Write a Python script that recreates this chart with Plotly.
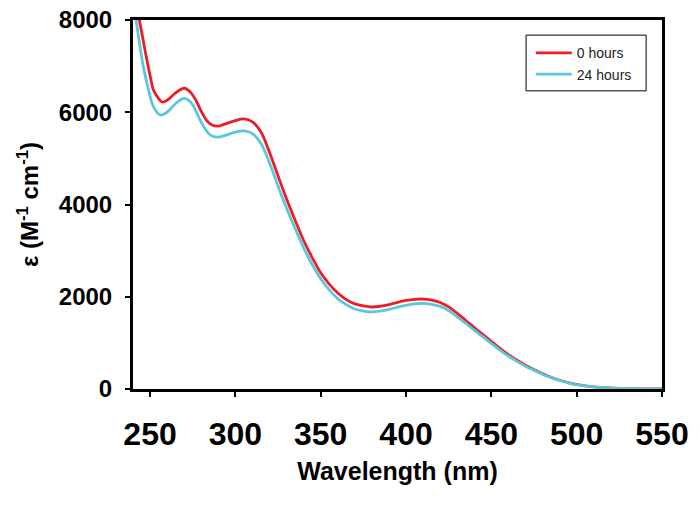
import plotly.graph_objects as go

wl_red = [243.7, 245, 247, 250, 252, 254, 257, 260, 265, 270, 274, 277, 280, 283, 286, 290, 295, 300, 305,
          310, 315, 320, 325, 330, 335, 340, 345, 350, 355, 360, 365, 370, 375, 380, 385, 390, 395, 400,
          405, 410, 415, 420, 425, 430, 435, 440, 445, 450, 455, 460, 465, 470, 475, 480, 485, 490,
          495, 500, 505, 510, 520, 530, 540, 550]
eps_red = [8000, 7750, 7350, 6800, 6480, 6350, 6222, 6260, 6420, 6520, 6420, 6250, 6020, 5830, 5730,
           5700, 5760, 5820, 5855, 5790, 5570, 5130, 4620, 4120, 3660, 3220, 2850, 2520, 2275, 2080,
           1938, 1845, 1800, 1778, 1795, 1830, 1880, 1920, 1945, 1950, 1928, 1875, 1780, 1640, 1485,
           1330, 1185, 1030, 880, 745, 625, 515, 420, 330, 255, 190, 140, 100, 70, 48, 22, 10, 4, 2]

wl_cyan = [241.8, 243, 246, 249, 252, 256, 260, 265, 270, 274, 277, 280, 283, 286, 290, 295, 300, 305,
           310, 315, 320, 325, 330, 335, 340, 345, 350, 355, 360, 365, 370, 375, 380, 385, 390, 395, 400,
           405, 410, 415, 420, 425, 430, 435, 440, 445, 450, 455, 460, 465, 470, 475, 480, 485, 490,
           495, 500, 505, 510, 520, 530, 540, 550]
eps_cyan = [8000, 7700, 7000, 6500, 6120, 5940, 6000, 6190, 6300, 6210, 6020, 5780, 5600, 5490, 5460,
            5510, 5570, 5595, 5535, 5320, 4900, 4400, 3920, 3480, 3060, 2700, 2390, 2150, 1960, 1830,
            1735, 1690, 1670, 1690, 1725, 1775, 1815, 1845, 1855, 1835, 1790, 1700, 1565, 1425, 1275,
            1135, 990, 845, 715, 600, 495, 405, 320, 247, 184, 135, 96, 67, 46, 20, 9, 3, 1]

series_names = ["0 hours", "24 hours"]
x_ticks = [250, 300, 350, 400, 450, 500, 550]
y_ticks = [0, 2000, 4000, 6000, 8000]

FONT = "Arial, Liberation Sans, sans-serif"

fig = go.Figure()
fig.add_trace(go.Scatter(x=wl_red, y=eps_red, mode="lines", name=series_names[0],
                         line=dict(color="#ee1c24", width=2.8, shape="spline", smoothing=1.0)))
fig.add_trace(go.Scatter(x=wl_cyan, y=eps_cyan, mode="lines", name=series_names[1],
                         line=dict(color="#5bc6dc", width=2.8, shape="spline", smoothing=1.0)))

# legend frame
fig.add_shape(type="rect", xref="paper", yref="paper",
              x0=0.743, x1=0.970, y0=0.808, y1=0.959,
              line=dict(color="black", width=1), fillcolor="rgba(0,0,0,0)", layer="above")

fig.update_layout(
    width=700, height=506,
    margin=dict(l=133, r=38, t=20, b=117, autoexpand=False),
    paper_bgcolor="white", plot_bgcolor="white",
    font=dict(family=FONT, color="black"),
    showlegend=True,
    legend=dict(x=0.752, y=0.953, xanchor="left", yanchor="top",
                borderwidth=0, bgcolor="rgba(0,0,0,0)",
                font=dict(size=14, family=FONT, color="#222"),
                itemwidth=36, tracegroupgap=0),
    xaxis=dict(range=[240, 550], tickvals=x_ticks, ticktext=[str(v) for v in x_ticks],
               showgrid=False, zeroline=False, automargin=False,
               showline=True, linecolor="black", linewidth=3, mirror=True,
               ticks="outside", ticklen=5, tickwidth=1.5, tickcolor="black",
               tickfont=dict(size=32, family=FONT, weight="bold"),
               ticklabelstandoff=10,
               title=dict(text="<b>Wavelength (nm)</b>", font=dict(size=25, family=FONT), standoff=12)),
    yaxis=dict(range=[0, 8000], tickvals=y_ticks, ticktext=[str(v) for v in y_ticks],
               showgrid=False, zeroline=False, automargin=False,
               showline=True, linecolor="black", linewidth=3, mirror=True,
               ticks="outside", ticklen=5, tickwidth=1.5, tickcolor="black",
               tickfont=dict(size=24, family=FONT, weight="bold"),
               ticklabelstandoff=8,
               title=dict(text="<b>ε (M<sup>-1</sup> cm<sup>-1</sup>)</b>", font=dict(size=24, family=FONT), standoff=14)),
)

fig.write_html("out.html", config={"displayModeBar": False},
               post_script="document.body.style.margin='0';")
